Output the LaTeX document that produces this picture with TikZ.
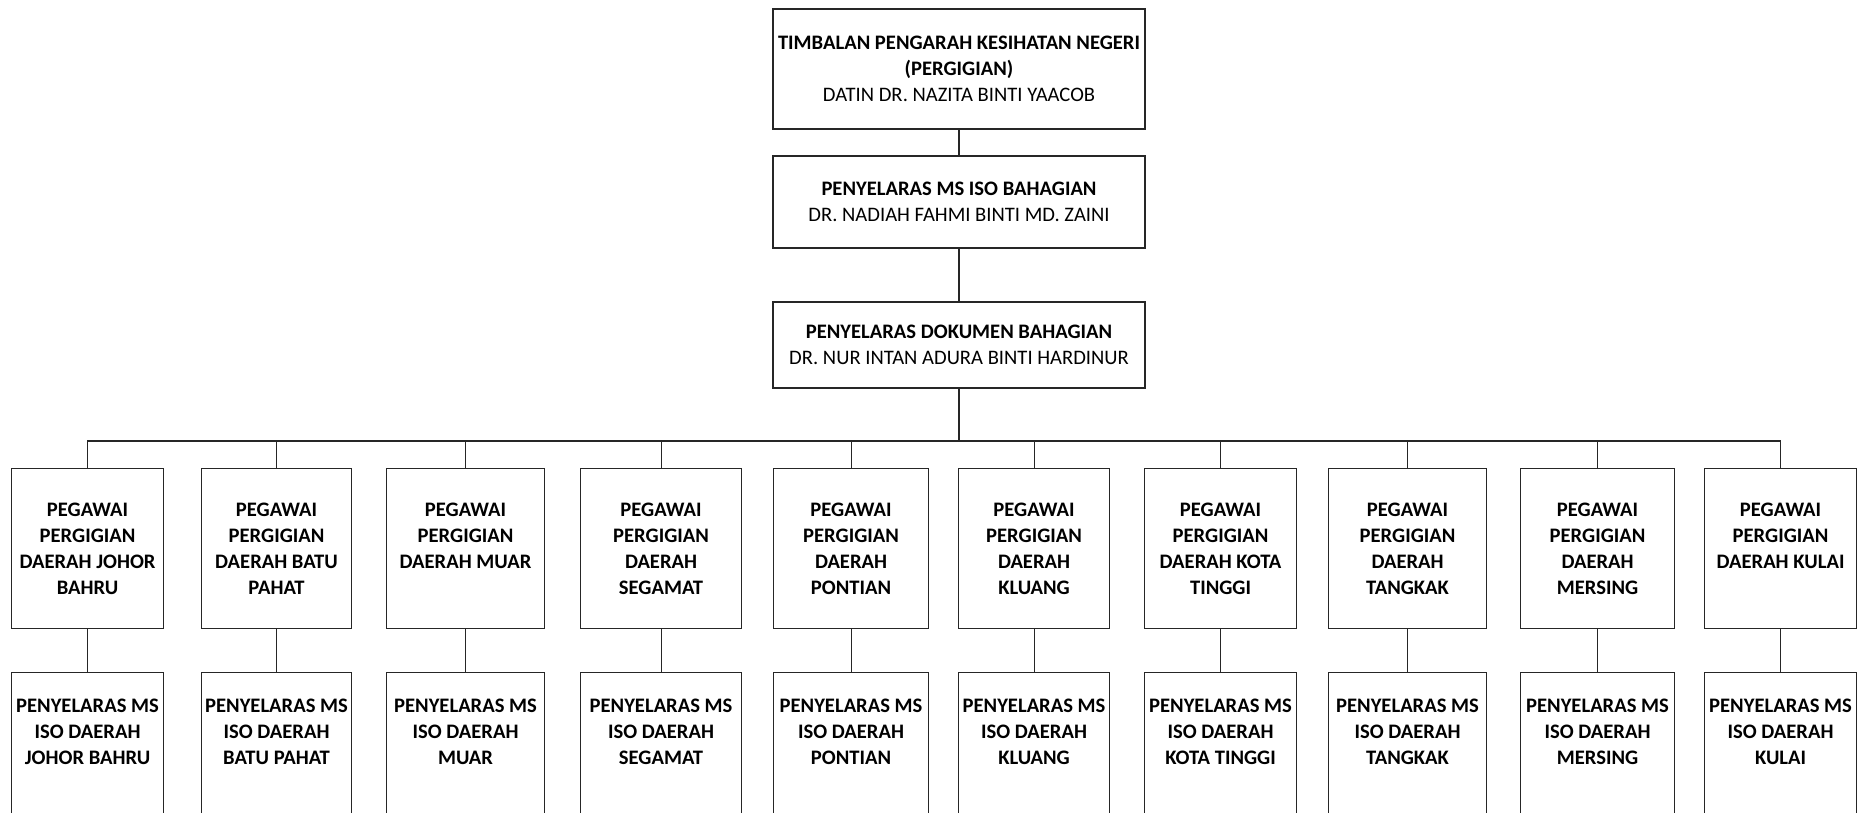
\documentclass[tikz,border=0pt]{standalone}
\usepackage{fontspec}
\setmainfont{Carlito}
\newcommand\lowbox[7]{%
  \node[lbox] (#1) at (#2,#4) {\parbox[c][#5pt][t]{\dimexpr#3pt-#2pt\relax}{\centering\vspace*{#6pt}#7}};}
\begin{document}
\begin{tikzpicture}[x=1pt,y=-1pt,
  conn/.style={draw=black!85, line width=1.1pt},
  hbox/.style={draw=black!85, line width=1.1pt, minimum width=372pt, inner sep=0pt, align=center, font=\fontsize{20.6}{26}\selectfont},
  lbox/.style={draw=black!85, line width=1.1pt, inner sep=0pt, anchor=north west, font=\fontsize{20.6}{26}\selectfont\bfseries},
]
\useasboundingbox[fill=white] (0,0) rectangle (1863,813);

\node[hbox, minimum height=120pt] (t1) at (959,69)
  {\textbf{TIMBALAN PENGARAH KESIHATAN NEGERI}\\\textbf{(PERGIGIAN)}\\DATIN DR. NAZITA BINTI YAACOB};
\node[hbox, minimum height=92pt] (t2) at (959,202)
  {\textbf{PENYELARAS MS ISO BAHAGIAN}\\DR. NADIAH FAHMI BINTI MD. ZAINI};
\node[hbox, minimum height=86pt] (t3) at (959,345)
  {\textbf{PENYELARAS DOKUMEN BAHAGIAN}\\DR. NUR INTAN ADURA BINTI HARDINUR};

\coordinate (bus) at (0,441);

% row 1
\lowbox{p1}{11}{163}{468}{160}{34}{PEGAWAI\\PERGIGIAN\\DAERAH JOHOR\\BAHRU}
\lowbox{p2}{201}{351}{468}{160}{34}{PEGAWAI\\PERGIGIAN\\DAERAH BATU\\PAHAT}
\lowbox{p3}{386}{544}{468}{160}{34}{PEGAWAI\\PERGIGIAN\\DAERAH MUAR}
\lowbox{p4}{580}{741}{468}{160}{34}{PEGAWAI\\PERGIGIAN\\DAERAH\\SEGAMAT}
\lowbox{p5}{773}{928}{468}{160}{34}{PEGAWAI\\PERGIGIAN\\DAERAH\\PONTIAN}
\lowbox{p6}{958}{1109}{468}{160}{34}{PEGAWAI\\PERGIGIAN\\DAERAH\\KLUANG}
\lowbox{p7}{1144}{1296}{468}{160}{34}{PEGAWAI\\PERGIGIAN\\DAERAH KOTA\\TINGGI}
\lowbox{p8}{1328}{1486}{468}{160}{34}{PEGAWAI\\PERGIGIAN\\DAERAH\\TANGKAK}
\lowbox{p9}{1520}{1674}{468}{160}{34}{PEGAWAI\\PERGIGIAN\\DAERAH\\MERSING}
\lowbox{p10}{1704}{1856}{468}{160}{34}{PEGAWAI\\PERGIGIAN\\DAERAH KULAI}

% row 2
\lowbox{q1}{11}{163}{672}{160}{26}{PENYELARAS MS\\ISO DAERAH\\JOHOR BAHRU}
\lowbox{q2}{201}{351}{672}{160}{26}{PENYELARAS MS\\ISO DAERAH\\BATU PAHAT}
\lowbox{q3}{386}{544}{672}{160}{26}{PENYELARAS MS\\ISO DAERAH\\MUAR}
\lowbox{q4}{580}{741}{672}{160}{26}{PENYELARAS MS\\ISO DAERAH\\SEGAMAT}
\lowbox{q5}{773}{928}{672}{160}{26}{PENYELARAS MS\\ISO DAERAH\\PONTIAN}
\lowbox{q6}{958}{1109}{672}{160}{26}{PENYELARAS MS\\ISO DAERAH\\KLUANG}
\lowbox{q7}{1144}{1296}{672}{160}{26}{PENYELARAS MS\\ISO DAERAH\\KOTA TINGGI}
\lowbox{q8}{1328}{1486}{672}{160}{26}{PENYELARAS MS\\ISO DAERAH\\TANGKAK}
\lowbox{q9}{1520}{1674}{672}{160}{26}{PENYELARAS MS\\ISO DAERAH\\MERSING}
\lowbox{q10}{1704}{1856}{672}{160}{26}{PENYELARAS MS\\ISO DAERAH\\KULAI}

% connectors
\draw[conn] (t1.south) -- (t2.north);
\draw[conn] (t2.south) -- (t3.north);
\draw[conn] (t3.south) -- (t3.south |- bus);
\draw[conn] (p1.north) -- (p1.north |- bus) -- (p10.north |- bus) -- (p10.north);
\foreach \i in {2,...,9} {\draw[conn] (p\i.north) -- (p\i.north |- bus);}
\foreach \i in {1,...,10} {\draw[conn] (p\i.south) -- (q\i.north);}
\end{tikzpicture}
\end{document}
